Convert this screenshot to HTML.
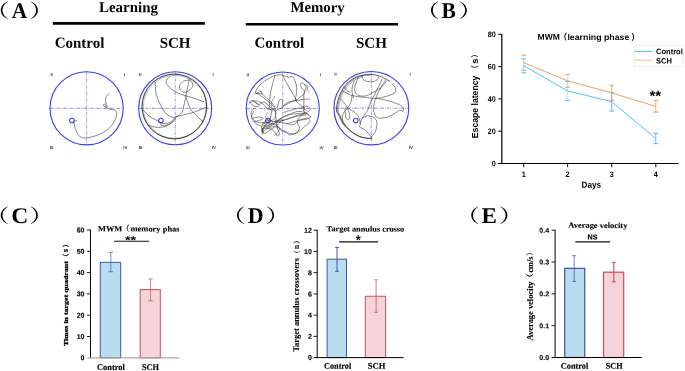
<!DOCTYPE html>
<html><head><meta charset="utf-8"><title>Figure</title>
<style>html,body{margin:0;padding:0;background:#fff;overflow:hidden;}svg{display:block;}</style>
</head><body>
<svg width="685" height="371" viewBox="0 0 685 371">
<rect width="685" height="371" fill="#fff"/>
<text transform="translate(-15.24,16.7) scale(1.32,1)" font-family='"Liberation Serif","Noto Serif CJK SC",serif' font-weight="500" font-size="18.7">（</text>
<text transform="translate(11.7 18) rotate(0.2)" font-size="22.5" font-family='"Liberation Serif","Noto Serif CJK SC",serif' font-weight="bold" text-anchor="start" fill="#000" textLength="15.4" lengthAdjust="spacingAndGlyphs" >A</text>
<text transform="translate(29.37,16.7) scale(1.32,1)" font-family='"Liberation Serif","Noto Serif CJK SC",serif' font-weight="500" font-size="18.7">）</text>
<text transform="translate(414.96,16.7) scale(1.32,1)" font-family='"Liberation Serif","Noto Serif CJK SC",serif' font-weight="500" font-size="18.7">（</text>
<text transform="translate(441.6 18) rotate(0.2)" font-size="22.5" font-family='"Liberation Serif","Noto Serif CJK SC",serif' font-weight="bold" text-anchor="start" fill="#000" textLength="14.3" lengthAdjust="spacingAndGlyphs" >B</text>
<text transform="translate(458.37,16.7) scale(1.32,1)" font-family='"Liberation Serif","Noto Serif CJK SC",serif' font-weight="500" font-size="18.7">）</text>
<text transform="translate(-15.24,221.6) scale(1.32,1)" font-family='"Liberation Serif","Noto Serif CJK SC",serif' font-weight="500" font-size="18.7">（</text>
<text transform="translate(11.2 222.9) rotate(0.2)" font-size="22.5" font-family='"Liberation Serif","Noto Serif CJK SC",serif' font-weight="bold" text-anchor="start" fill="#000" textLength="17.0" lengthAdjust="spacingAndGlyphs" >C</text>
<text transform="translate(29.37,221.6) scale(1.32,1)" font-family='"Liberation Serif","Noto Serif CJK SC",serif' font-weight="500" font-size="18.7">）</text>
<text transform="translate(220.96,221.6) scale(1.32,1)" font-family='"Liberation Serif","Noto Serif CJK SC",serif' font-weight="500" font-size="18.7">（</text>
<text transform="translate(247.8 222.9) rotate(0.2)" font-size="22.5" font-family='"Liberation Serif","Noto Serif CJK SC",serif' font-weight="bold" text-anchor="start" fill="#000" textLength="15.8" lengthAdjust="spacingAndGlyphs" >D</text>
<text transform="translate(265.47,221.6) scale(1.32,1)" font-family='"Liberation Serif","Noto Serif CJK SC",serif' font-weight="500" font-size="18.7">）</text>
<text transform="translate(455.36,221.6) scale(1.32,1)" font-family='"Liberation Serif","Noto Serif CJK SC",serif' font-weight="500" font-size="18.7">（</text>
<text transform="translate(481.6 222.9) rotate(0.2)" font-size="22.5" font-family='"Liberation Serif","Noto Serif CJK SC",serif' font-weight="bold" text-anchor="start" fill="#000" textLength="15.4" lengthAdjust="spacingAndGlyphs" >E</text>
<text transform="translate(498.77,221.6) scale(1.32,1)" font-family='"Liberation Serif","Noto Serif CJK SC",serif' font-weight="500" font-size="18.7">）</text>
<text transform="translate(128.5 12.1) rotate(0.2)" font-size="15" font-family='"Liberation Serif","Noto Serif CJK SC",serif' font-weight="bold" text-anchor="middle" fill="#000" >Learning</text>
<text transform="translate(317.6 12.1) rotate(0.2)" font-size="14.8" font-family='"Liberation Serif","Noto Serif CJK SC",serif' font-weight="bold" text-anchor="middle" fill="#000" >Memory</text>
<line x1="52.8" y1="23.4" x2="204.8" y2="23.4" stroke="#000" stroke-width="2.6" />
<line x1="245.8" y1="24.2" x2="398" y2="24.2" stroke="#000" stroke-width="2.6" />
<text transform="translate(79.5 47.7) rotate(0.2)" font-size="15" font-family='"Liberation Serif","Noto Serif CJK SC",serif' font-weight="bold" text-anchor="middle" fill="#000" >Control</text>
<text transform="translate(175.1 47.7) rotate(0.2)" font-size="15" font-family='"Liberation Serif","Noto Serif CJK SC",serif' font-weight="bold" text-anchor="middle" fill="#000" >SCH</text>
<text transform="translate(279.4 47.7) rotate(0.2)" font-size="15" font-family='"Liberation Serif","Noto Serif CJK SC",serif' font-weight="bold" text-anchor="middle" fill="#000" >Control</text>
<text transform="translate(371.4 47.7) rotate(0.2)" font-size="15" font-family='"Liberation Serif","Noto Serif CJK SC",serif' font-weight="bold" text-anchor="middle" fill="#000" >SCH</text>
<ellipse cx="86.6" cy="108.3" rx="36.6" ry="36.6" fill="none" stroke="#3d3df5" stroke-width="1.1"/>
<line x1="86.6" y1="71.69999999999999" x2="86.6" y2="144.9" stroke="#3d3df5" stroke-width="0.5" stroke-dasharray="3.5 1.1 0.9 1.15"/>
<line x1="49.99999999999999" y1="108.3" x2="123.19999999999999" y2="108.3" stroke="#3d3df5" stroke-width="0.6" stroke-dasharray="3.5 1.1 0.9 1.15"/>
<circle cx="71.9" cy="120.5" r="2.3" fill="none" stroke="#3d3df5" stroke-width="1.05"/>
<text transform="translate(51.599999999999994 75.89999999999999) rotate(0.2)" font-size="4.4" font-family='"Liberation Sans","Noto Sans CJK SC",sans-serif' font-weight="bold" text-anchor="middle" fill="#3a3a3a" >II</text>
<text transform="translate(124.49999999999999 75.89999999999999) rotate(0.2)" font-size="4.4" font-family='"Liberation Sans","Noto Sans CJK SC",sans-serif' font-weight="bold" text-anchor="middle" fill="#3a3a3a" >I</text>
<text transform="translate(51.699999999999996 149.0) rotate(0.2)" font-size="4.4" font-family='"Liberation Sans","Noto Sans CJK SC",sans-serif' font-weight="bold" text-anchor="middle" fill="#3a3a3a" textLength="3.4" lengthAdjust="spacingAndGlyphs" >III</text>
<text transform="translate(125.39999999999999 149.0) rotate(0.2)" font-size="4.4" font-family='"Liberation Sans","Noto Sans CJK SC",sans-serif' font-weight="bold" text-anchor="middle" fill="#3a3a3a" >IV</text>
<ellipse cx="175.2" cy="108.3" rx="36.5" ry="36.5" fill="none" stroke="#3d3df5" stroke-width="1.1"/>
<line x1="175.2" y1="71.8" x2="175.2" y2="144.8" stroke="#3d3df5" stroke-width="0.5" stroke-dasharray="3.5 1.1 0.9 1.15"/>
<line x1="138.7" y1="108.3" x2="211.7" y2="108.3" stroke="#3d3df5" stroke-width="0.6" stroke-dasharray="3.5 1.1 0.9 1.15"/>
<circle cx="160.9" cy="120.5" r="2.3" fill="none" stroke="#3d3df5" stroke-width="1.05"/>
<text transform="translate(140.29999999999998 76.0) rotate(0.2)" font-size="4.4" font-family='"Liberation Sans","Noto Sans CJK SC",sans-serif' font-weight="bold" text-anchor="middle" fill="#3a3a3a" >II</text>
<text transform="translate(213.0 76.0) rotate(0.2)" font-size="4.4" font-family='"Liberation Sans","Noto Sans CJK SC",sans-serif' font-weight="bold" text-anchor="middle" fill="#3a3a3a" >I</text>
<text transform="translate(140.39999999999998 148.9) rotate(0.2)" font-size="4.4" font-family='"Liberation Sans","Noto Sans CJK SC",sans-serif' font-weight="bold" text-anchor="middle" fill="#3a3a3a" textLength="3.4" lengthAdjust="spacingAndGlyphs" >III</text>
<text transform="translate(213.89999999999998 148.9) rotate(0.2)" font-size="4.4" font-family='"Liberation Sans","Noto Sans CJK SC",sans-serif' font-weight="bold" text-anchor="middle" fill="#3a3a3a" >IV</text>
<ellipse cx="282.75" cy="108.5" rx="36.55" ry="36.55" fill="none" stroke="#3d3df5" stroke-width="1.1"/>
<line x1="282.75" y1="71.95" x2="282.75" y2="145.05" stroke="#3d3df5" stroke-width="0.5" stroke-dasharray="3.5 1.1 0.9 1.15"/>
<line x1="246.2" y1="108.5" x2="319.3" y2="108.5" stroke="#3d3df5" stroke-width="0.6" stroke-dasharray="3.5 1.1 0.9 1.15"/>
<circle cx="267.9" cy="120.5" r="2.3" fill="none" stroke="#3d3df5" stroke-width="1.05"/>
<text transform="translate(247.79999999999998 76.15) rotate(0.2)" font-size="4.4" font-family='"Liberation Sans","Noto Sans CJK SC",sans-serif' font-weight="bold" text-anchor="middle" fill="#3a3a3a" >II</text>
<text transform="translate(320.6 76.15) rotate(0.2)" font-size="4.4" font-family='"Liberation Sans","Noto Sans CJK SC",sans-serif' font-weight="bold" text-anchor="middle" fill="#3a3a3a" >I</text>
<text transform="translate(247.89999999999998 149.15) rotate(0.2)" font-size="4.4" font-family='"Liberation Sans","Noto Sans CJK SC",sans-serif' font-weight="bold" text-anchor="middle" fill="#3a3a3a" textLength="3.4" lengthAdjust="spacingAndGlyphs" >III</text>
<text transform="translate(321.5 149.15) rotate(0.2)" font-size="4.4" font-family='"Liberation Sans","Noto Sans CJK SC",sans-serif' font-weight="bold" text-anchor="middle" fill="#3a3a3a" >IV</text>
<ellipse cx="371.35" cy="108.15" rx="37.4" ry="36.7" fill="none" stroke="#3d3df5" stroke-width="1.1"/>
<line x1="371.35" y1="71.45" x2="371.35" y2="144.85000000000002" stroke="#3d3df5" stroke-width="0.5" stroke-dasharray="3.5 1.1 0.9 1.15"/>
<line x1="333.95000000000005" y1="108.15" x2="408.75" y2="108.15" stroke="#3d3df5" stroke-width="0.6" stroke-dasharray="3.5 1.1 0.9 1.15"/>
<circle cx="355.8" cy="120.5" r="2.3" fill="none" stroke="#3d3df5" stroke-width="1.05"/>
<text transform="translate(335.55000000000007 75.65) rotate(0.2)" font-size="4.4" font-family='"Liberation Sans","Noto Sans CJK SC",sans-serif' font-weight="bold" text-anchor="middle" fill="#3a3a3a" >II</text>
<text transform="translate(410.05 75.65) rotate(0.2)" font-size="4.4" font-family='"Liberation Sans","Noto Sans CJK SC",sans-serif' font-weight="bold" text-anchor="middle" fill="#3a3a3a" >I</text>
<text transform="translate(335.65000000000003 148.95000000000002) rotate(0.2)" font-size="4.4" font-family='"Liberation Sans","Noto Sans CJK SC",sans-serif' font-weight="bold" text-anchor="middle" fill="#3a3a3a" textLength="3.4" lengthAdjust="spacingAndGlyphs" >III</text>
<text transform="translate(410.95 148.95000000000002) rotate(0.2)" font-size="4.4" font-family='"Liberation Sans","Noto Sans CJK SC",sans-serif' font-weight="bold" text-anchor="middle" fill="#3a3a3a" >IV</text>
<path d="M109.1,93.4 C108.6,93.9 106.8,95.4 106.3,96.6 C105.7,97.8 105.6,99.5 105.6,100.8 C105.6,102.0 106.0,103.3 106.3,104.2 C106.5,105.2 107.3,105.8 107.2,106.3 C107.1,106.8 106.4,107.4 105.8,107.3 C105.2,107.1 103.7,106.0 103.5,105.4 C103.3,104.8 104.0,103.7 104.4,103.8 C104.8,103.9 105.4,105.2 105.8,105.9 C106.2,106.5 106.1,107.2 106.7,107.7 C107.4,108.3 108.5,108.7 109.7,109.1 C111.0,109.5 113.2,109.5 114.4,110.0 C115.5,110.6 116.4,111.3 116.7,112.4 C117.0,113.4 116.8,114.7 116.2,116.5 C115.7,118.3 114.7,121.1 113.2,123.3 C111.8,125.5 109.7,127.9 107.4,129.7 C105.1,131.6 102.2,133.1 99.3,134.4 C96.4,135.7 92.7,136.8 90.0,137.4 C87.3,138.0 85.0,138.2 83.1,137.9 C81.2,137.5 79.7,136.4 78.5,135.1 C77.2,133.7 76.4,131.6 75.7,129.7 C75.0,127.9 74.6,125.4 74.3,124.0 C74.0,122.5 73.4,121.7 73.8,121.2 C74.2,120.6 76.1,120.8 76.6,120.7" fill="none" stroke="#383838" stroke-width="0.6" stroke-opacity="1" stroke-linecap="round" stroke-linejoin="round"/>
<path d="M116.5,92.0 L117.4,91.0" fill="none" stroke="#666" stroke-width="0.5" stroke-opacity="1" stroke-linecap="round" stroke-linejoin="round"/>
<circle cx="174.4" cy="106.5" r="32.3" fill="none" stroke="#222" stroke-width="0.9" stroke-opacity="0.95"/>
<circle cx="174.8" cy="106.9" r="31.5" fill="none" stroke="#222" stroke-width="0.5" stroke-opacity="0.55"/>
<circle cx="174.3" cy="106.3" r="32.7" fill="none" stroke="#222" stroke-width="0.4" stroke-opacity="0.45"/>
<path d="M155.3,82.2 C155.4,83.9 155.2,88.9 155.9,92.2 C156.5,95.5 157.9,99.1 159.2,102.2 C160.5,105.2 162.7,108.7 163.6,110.5 C164.6,112.2 163.9,111.7 165.0,112.7 C166.1,113.7 168.5,115.8 170.3,116.5 C172.1,117.3 174.2,117.6 175.8,117.1 C177.5,116.6 179.2,114.8 180.3,113.8 C181.4,112.8 181.6,113.9 182.5,111.1 C183.4,108.2 185.0,100.5 185.8,96.6 C186.7,92.7 186.9,90.5 187.5,87.8 C188.0,85.0 188.9,81.3 189.1,80.0" fill="none" stroke="#383838" stroke-width="0.6" stroke-opacity="1" stroke-linecap="round" stroke-linejoin="round"/>
<path d="M170.3,76.7 C169.6,77.2 167.0,78.7 166.4,80.0 C165.8,81.3 165.9,82.8 167.0,84.4 C168.0,86.1 170.1,88.3 172.5,90.0 C174.9,91.6 178.1,93.1 181.4,94.4 C184.7,95.7 188.8,96.5 192.5,97.7 C196.2,98.9 201.7,101.0 203.6,101.6" fill="none" stroke="#383838" stroke-width="0.6" stroke-opacity="1" stroke-linecap="round" stroke-linejoin="round"/>
<path d="M189.1,80.0 C188.2,80.2 185.2,80.2 183.6,81.1 C182.0,82.0 180.3,84.1 179.7,85.5 C179.2,87.0 179.4,88.9 180.3,90.0 C181.1,91.1 183.2,92.1 184.7,92.2 C186.2,92.3 187.9,91.5 189.1,90.5 C190.4,89.6 192.0,88.0 192.5,86.6 C192.9,85.3 192.5,83.3 191.9,82.2 C191.4,81.1 189.6,80.4 189.1,80.0" fill="none" stroke="#383838" stroke-width="0.6" stroke-opacity="1" stroke-linecap="round" stroke-linejoin="round"/>
<path d="M185.8,96.6 C186.2,97.7 187.1,101.0 188.0,103.3 C189.0,105.6 190.4,108.9 191.4,110.5 C192.3,112.1 192.3,111.4 193.6,112.7 C194.9,113.9 197.5,116.7 199.1,118.2 C200.8,119.7 202.8,121.0 203.6,121.5" fill="none" stroke="#383838" stroke-width="0.6" stroke-opacity="1" stroke-linecap="round" stroke-linejoin="round"/>
<path d="M143.7,110.4 C144.6,111.4 147.2,114.4 149.2,116.0 C151.2,117.6 153.9,118.8 155.9,119.9 C157.8,121.0 159.2,122.0 160.9,122.6 C162.5,123.3 164.1,123.9 165.8,123.8 C167.6,123.6 169.7,122.6 171.4,121.5 C173.1,120.4 173.8,118.2 175.8,117.1 C177.9,116.0 180.8,115.6 183.6,114.9 C186.4,114.1 189.5,113.6 192.5,112.7 C195.4,111.7 199.1,110.3 201.4,109.3 C203.6,108.4 205.0,107.5 205.8,107.1" fill="none" stroke="#383838" stroke-width="0.6" stroke-opacity="1" stroke-linecap="round" stroke-linejoin="round"/>
<path d="M160.9,122.6 C160.9,123.1 160.4,125.0 161.4,125.4 C162.4,125.9 164.9,126.1 167.0,125.4 C169.0,124.8 172.5,122.2 173.6,121.5" fill="none" stroke="#383838" stroke-width="0.6" stroke-opacity="1" stroke-linecap="round" stroke-linejoin="round"/>
<path d="M148.1,124.9 C149.2,125.2 152.3,126.7 154.8,127.1 C157.2,127.5 159.9,127.6 162.5,127.1 C165.1,126.5 168.1,125.2 170.3,123.8 C172.5,122.3 174.9,119.1 175.8,118.2" fill="none" stroke="#383838" stroke-width="0.6" stroke-opacity="1" stroke-linecap="round" stroke-linejoin="round"/>
<path d="M255.1,92.7 C255.6,91.7 256.6,88.8 258.4,86.6 C260.3,84.5 263.4,81.8 266.2,80.0 C269.0,78.1 272.5,76.4 275.1,75.5 C277.7,74.7 280.1,74.9 281.7,75.0 C283.4,75.1 283.9,75.7 285.1,76.1 C286.2,76.5 287.1,77.1 288.4,77.2 C289.7,77.3 291.7,76.0 292.8,76.7 C293.9,77.3 294.4,79.2 295.0,81.1 C295.7,82.9 296.5,85.3 296.7,87.8 C296.9,90.2 296.3,93.5 296.1,95.5 C296.0,97.6 295.0,98.5 295.6,100.0 C296.1,101.4 298.1,103.1 299.5,104.4 C300.9,105.7 302.8,106.7 303.9,107.7 C305.0,108.7 305.8,110.0 306.1,110.5" fill="none" stroke="#383838" stroke-width="0.6" stroke-opacity="1" stroke-linecap="round" stroke-linejoin="round"/>
<path d="M275.1,75.5 C274.7,76.8 273.6,80.5 272.8,83.3 C272.1,86.1 271.1,89.2 270.6,92.2 C270.1,95.1 269.9,98.3 269.7,101.1 C269.6,103.8 269.2,107.3 269.5,108.8 C269.9,110.4 271.6,109.1 271.7,110.4 C271.9,111.8 270.9,115.2 270.6,117.1 C270.4,118.9 270.2,120.8 270.1,121.5" fill="none" stroke="#383838" stroke-width="0.6" stroke-opacity="1" stroke-linecap="round" stroke-linejoin="round"/>
<path d="M282.8,75.5 C283.4,76.7 284.9,79.8 286.2,82.2 C287.5,84.6 289.1,87.4 290.6,90.0 C292.1,92.6 294.0,95.9 295.0,97.7 C296.1,99.6 296.4,100.5 296.7,101.1" fill="none" stroke="#383838" stroke-width="0.6" stroke-opacity="1" stroke-linecap="round" stroke-linejoin="round"/>
<path d="M308.9,91.6 C308.6,91.3 307.4,90.3 307.2,89.4 C307.1,88.5 308.3,86.9 307.8,86.1 C307.3,85.3 305.5,85.0 304.5,84.4 C303.5,83.9 302.3,82.6 301.7,82.8 C301.0,82.9 300.5,84.5 300.6,85.5 C300.7,86.6 301.6,87.9 302.2,88.9 C302.9,89.8 304.2,90.2 304.5,91.1 C304.7,91.9 304.7,92.7 303.9,93.9 C303.1,95.0 300.8,96.7 299.5,97.7 C298.2,98.8 298.0,99.0 296.1,100.0 C294.3,100.9 290.8,102.0 288.4,103.3 C286.0,104.6 283.8,106.5 281.7,107.7 C279.7,108.9 277.1,110.0 276.2,110.5" fill="none" stroke="#383838" stroke-width="0.6" stroke-opacity="1" stroke-linecap="round" stroke-linejoin="round"/>
<path d="M304.5,84.4 C304.7,85.0 306.2,86.2 306.1,87.8 C306.0,89.3 304.3,91.3 303.9,93.9 C303.5,96.4 304.0,100.5 303.9,103.3 C303.8,106.1 303.5,109.3 303.4,110.5" fill="none" stroke="#383838" stroke-width="0.6" stroke-opacity="1" stroke-linecap="round" stroke-linejoin="round"/>
<path d="M260.1,90.5 C260.4,91.1 262.6,93.5 261.8,93.9 C260.9,94.2 255.3,92.5 255.1,92.7 C254.9,93.0 258.8,94.3 260.6,95.5 C262.5,96.7 264.3,98.5 266.2,100.0 C268.0,101.4 270.3,102.9 271.7,104.4 C273.2,105.9 274.4,106.7 275.1,108.8 C275.7,111.0 275.4,115.0 275.6,117.1 C275.8,119.2 276.1,120.8 276.2,121.5" fill="none" stroke="#383838" stroke-width="0.6" stroke-opacity="1" stroke-linecap="round" stroke-linejoin="round"/>
<path d="M249.5,102.2 C250.1,101.9 251.4,100.1 252.9,100.5 C254.4,100.9 256.8,104.1 258.4,104.4 C260.1,104.7 261.6,102.4 262.9,102.2 C264.2,102.0 265.1,102.5 266.2,103.3 C267.3,104.0 268.2,105.5 269.5,106.6 C270.8,107.7 273.2,109.4 274.0,109.9" fill="none" stroke="#383838" stroke-width="0.6" stroke-opacity="1" stroke-linecap="round" stroke-linejoin="round"/>
<path d="M250.7,103.3 C251.4,103.8 253.6,106.2 255.1,106.6 C256.6,107.0 259.7,106.3 259.5,105.5 C259.3,104.7 254.9,102.3 254.0,101.6" fill="none" stroke="#383838" stroke-width="0.6" stroke-opacity="1" stroke-linecap="round" stroke-linejoin="round"/>
<path d="M277.3,107.7 C277.7,106.4 278.7,101.2 279.5,100.0 C280.3,98.8 281.7,99.6 282.3,100.5 C282.8,101.4 281.8,105.2 282.8,105.5 C283.8,105.8 286.2,103.0 288.4,102.2 C290.6,101.3 293.6,101.0 296.1,100.5 C298.7,100.0 301.7,99.6 303.9,99.4 C306.1,99.2 308.5,99.1 309.5,99.1" fill="none" stroke="#383838" stroke-width="0.6" stroke-opacity="1" stroke-linecap="round" stroke-linejoin="round"/>
<path d="M254.0,108.2 C253.5,109.0 251.5,110.8 251.2,112.7 C250.9,114.5 251.5,117.5 252.3,119.3 C253.2,121.2 254.6,122.6 256.2,123.8 C257.8,124.9 260.1,125.8 261.8,126.0 C263.4,126.2 265.5,125.0 266.2,124.9" fill="none" stroke="#383838" stroke-width="0.6" stroke-opacity="1" stroke-linecap="round" stroke-linejoin="round"/>
<path d="M252.9,118.2 C253.8,118.0 256.8,117.1 258.4,117.1 C260.1,117.1 262.7,117.6 262.9,118.2 C263.0,118.8 260.9,119.9 259.5,120.4 C258.1,121.0 255.4,121.3 254.5,121.5" fill="none" stroke="#383838" stroke-width="0.6" stroke-opacity="1" stroke-linecap="round" stroke-linejoin="round"/>
<path d="M267.9,120.4 C269.2,120.6 273.7,122.1 276.2,121.5 C278.7,121.0 280.4,118.4 282.8,117.1 C285.2,115.8 288.2,114.7 290.6,113.8 C293.0,112.8 295.0,111.8 297.3,111.5 C299.5,111.3 302.1,111.5 303.9,112.1 C305.8,112.7 307.2,114.0 308.4,114.9 C309.5,115.7 310.9,116.4 310.6,117.1 C310.2,117.8 308.0,118.8 306.1,119.3 C304.3,119.9 301.7,119.5 299.5,120.4 C297.3,121.3 294.7,124.3 292.8,124.9 C291.0,125.4 290.2,124.1 288.4,123.8 C286.5,123.4 283.8,122.9 281.7,122.6 C279.7,122.4 277.1,122.2 276.2,122.1" fill="none" stroke="#383838" stroke-width="0.6" stroke-opacity="1" stroke-linecap="round" stroke-linejoin="round"/>
<path d="M262.3,133.2 C262.2,132.5 261.1,130.5 261.8,129.3 C262.4,128.1 264.3,126.9 266.2,126.0 C268.0,125.0 271.0,123.8 272.8,123.8 C274.7,123.8 276.2,125.2 277.3,126.0 C278.4,126.7 278.8,127.4 279.5,128.2 C280.2,129.0 280.6,130.3 281.7,131.0 C282.8,131.6 284.9,131.4 286.2,132.1 C287.5,132.7 287.8,134.7 289.5,134.8 C291.2,135.0 294.5,134.3 296.1,133.2 C297.8,132.1 299.3,129.9 299.5,128.2 C299.7,126.4 297.3,124.5 297.3,122.6 C297.3,120.8 298.4,118.6 299.5,117.1 C300.6,115.6 303.2,115.4 303.9,113.8 C304.7,112.1 303.9,108.2 303.9,107.1" fill="none" stroke="#383838" stroke-width="0.6" stroke-opacity="1" stroke-linecap="round" stroke-linejoin="round"/>
<path d="M266.2,128.2 C267.1,128.4 270.3,128.6 271.7,129.3 C273.2,130.0 274.1,131.5 275.1,132.6 C276.0,133.7 276.5,135.8 277.3,136.0 C278.0,136.1 279.5,135.0 279.5,133.7 C279.5,132.4 277.8,130.0 277.3,128.2 C276.7,126.3 276.4,123.6 276.2,122.6" fill="none" stroke="#383838" stroke-width="0.6" stroke-opacity="1" stroke-linecap="round" stroke-linejoin="round"/>
<path d="M276.2,121.5 C277.3,121.3 280.4,121.0 282.8,120.4 C285.2,119.9 288.2,118.9 290.6,118.2 C293.0,117.5 294.7,116.5 297.3,116.0 C299.8,115.4 304.7,115.1 306.1,114.9" fill="none" stroke="#383838" stroke-width="0.6" stroke-opacity="1" stroke-linecap="round" stroke-linejoin="round"/>
<path d="M267.9,122.6 C267.2,123.4 265.0,126.0 264.0,127.1 C263.0,128.2 261.0,129.3 261.8,129.3 C262.5,129.3 266.0,128.2 268.4,127.1 C270.8,126.0 274.9,123.4 276.2,122.6" fill="none" stroke="#383838" stroke-width="0.6" stroke-opacity="1" stroke-linecap="round" stroke-linejoin="round"/>
<path d="M284.0,112.4 C286.0,111.8 291.8,109.8 295.6,108.9 C299.5,107.9 304.8,106.6 307.2,106.6 C309.6,106.6 310.0,107.9 310.0,108.9 C310.0,109.8 309.6,111.2 307.2,112.4 C304.8,113.5 299.1,114.7 295.6,115.8 C292.2,117.0 289.5,118.2 286.4,119.3 C283.3,120.5 278.6,122.2 277.1,122.8" fill="none" stroke="#3a3a3a" stroke-width="0.55" stroke-opacity="1" stroke-linecap="round" stroke-linejoin="round"/>
<path d="M286.4,124.0 C288.3,123.4 294.5,121.4 298.0,120.5 C301.4,119.5 305.2,118.0 307.2,118.2 C309.2,118.3 310.4,120.3 310.0,121.6 C309.6,123.0 306.9,124.5 304.9,126.3 C302.9,128.0 300.3,130.8 298.0,132.1 C295.6,133.3 293.3,133.9 291.0,133.7 C288.7,133.5 286.4,132.1 284.0,130.9 C281.7,129.7 278.2,127.0 277.1,126.3" fill="none" stroke="#3a3a3a" stroke-width="0.55" stroke-opacity="1" stroke-linecap="round" stroke-linejoin="round"/>
<path d="M249.3,103.1 C250.4,102.7 253.9,100.6 256.2,100.8 C258.5,101.0 261.2,102.9 263.2,104.2 C265.1,105.6 265.9,107.9 267.8,108.9 C269.7,109.8 273.6,109.8 274.8,110.0" fill="none" stroke="#3a3a3a" stroke-width="0.55" stroke-opacity="1" stroke-linecap="round" stroke-linejoin="round"/>
<path d="M253.9,111.2 C253.5,112.2 251.2,115.3 251.6,117.0 C252.0,118.7 254.3,120.7 256.2,121.6 C258.2,122.6 261.1,122.8 263.2,122.8 C265.3,122.8 268.0,121.8 269.0,121.6" fill="none" stroke="#3a3a3a" stroke-width="0.55" stroke-opacity="1" stroke-linecap="round" stroke-linejoin="round"/>
<path d="M256.2,93.8 C257.0,93.4 259.7,91.3 260.9,91.5 C262.0,91.7 261.6,93.4 263.2,95.0 C264.7,96.5 268.2,98.8 270.1,100.8 C272.1,102.7 274.0,105.6 274.8,106.6" fill="none" stroke="#3a3a3a" stroke-width="0.55" stroke-opacity="1" stroke-linecap="round" stroke-linejoin="round"/>
<path d="M274.8,121.6 C276.7,120.7 282.5,117.2 286.4,115.8 C290.2,114.5 294.3,113.8 298.0,113.5 C301.6,113.2 306.6,114.1 308.4,114.2" fill="none" stroke="#3a3a3a" stroke-width="0.55" stroke-opacity="1" stroke-linecap="round" stroke-linejoin="round"/>
<path d="M263.2,128.6 C263.0,129.2 261.6,131.9 262.0,132.1 C262.4,132.3 263.8,130.6 265.5,129.7 C267.2,128.9 270.1,127.0 272.5,126.7 C274.8,126.5 278.6,127.0 279.4,128.1 C280.2,129.2 277.9,132.0 277.1,133.2 C276.3,134.5 275.2,135.2 274.8,135.5" fill="none" stroke="#3a3a3a" stroke-width="0.55" stroke-opacity="1" stroke-linecap="round" stroke-linejoin="round"/>
<path d="M262.0,125.1 C262.4,124.5 263.2,122.5 264.3,121.6 C265.5,120.7 267.6,119.8 269.0,119.8 C270.3,119.8 272.3,120.7 272.5,121.6 C272.6,122.5 271.3,124.3 270.1,125.1 C269.0,126.0 266.7,126.0 265.5,126.7 C264.3,127.5 262.9,128.7 262.7,129.7 C262.5,130.8 263.3,133.0 264.3,133.2 C265.4,133.4 267.2,132.0 269.0,130.9 C270.7,129.8 273.2,127.9 274.8,126.7 C276.3,125.6 277.7,124.4 278.2,124.0" fill="none" stroke="#3a3a3a" stroke-width="0.6" stroke-opacity="1" stroke-linecap="round" stroke-linejoin="round"/>
<path d="M263.2,124.0 C264.0,123.8 266.5,122.8 267.8,122.8 C269.2,122.8 270.1,124.0 271.3,124.0 C272.5,124.0 273.6,123.4 274.8,122.8 C275.9,122.2 277.1,121.0 278.2,120.5 C279.4,120.0 281.1,119.9 281.7,119.8" fill="none" stroke="#3a3a3a" stroke-width="0.6" stroke-opacity="1" stroke-linecap="round" stroke-linejoin="round"/>
<path d="M261.3,126.7 C261.6,127.6 263.0,130.8 263.2,132.1 C263.3,133.3 262.4,134.0 262.3,134.4" fill="none" stroke="#3a3a3a" stroke-width="0.7" stroke-opacity="1" stroke-linecap="round" stroke-linejoin="round"/>
<path d="M267.8,112.4 C267.4,113.1 265.5,115.8 265.5,117.0 C265.5,118.2 267.4,119.3 267.8,119.8" fill="none" stroke="#3a3a3a" stroke-width="0.5" stroke-opacity="1" stroke-linecap="round" stroke-linejoin="round"/>
<path d="M274.8,96.1 C274.2,97.3 271.7,101.0 271.3,103.1 C270.9,105.2 271.7,107.3 272.5,108.9 C273.2,110.4 275.5,110.8 275.9,112.4 C276.3,113.9 275.5,116.8 274.8,118.2 C274.0,119.5 271.9,120.1 271.3,120.5" fill="none" stroke="#3a3a3a" stroke-width="0.5" stroke-opacity="1" stroke-linecap="round" stroke-linejoin="round"/>
<path d="M371.4,138.2 C370.7,138.2 369.4,138.5 367.5,138.2 C365.6,137.9 362.5,137.6 359.7,136.5 C357.0,135.4 353.6,133.6 350.9,131.5 C348.1,129.4 345.1,126.5 343.1,123.8 C341.1,121.0 339.8,117.2 338.7,114.9 C337.5,112.6 336.4,112.8 336.4,109.9 C336.4,107.1 337.4,101.6 338.7,97.7 C340.0,93.9 342.0,89.7 344.2,86.6 C346.4,83.6 349.2,81.3 352.0,79.4 C354.7,77.6 357.7,76.4 360.8,75.5 C364.0,74.7 367.7,74.3 370.8,74.4 C374.0,74.5 377.1,75.3 379.7,76.1 C382.3,76.9 384.7,78.6 386.4,79.4 C388.0,80.3 389.1,80.8 389.7,81.1" fill="none" stroke="#222" stroke-width="0.75" stroke-opacity="1" stroke-linecap="round" stroke-linejoin="round"/>
<path d="M372.4,138.6 C371.7,138.6 370.4,138.9 368.5,138.6 C366.6,138.3 363.5,138.1 360.7,137.0 C358.0,135.8 354.6,134.1 351.9,132.0 C349.1,129.8 346.1,127.0 344.1,124.2 C342.1,121.4 340.8,117.6 339.7,115.3 C338.5,113.0 337.4,113.2 337.4,110.4 C337.4,107.5 338.4,102.1 339.7,98.2 C341.0,94.3 343.0,90.1 345.2,87.1 C347.4,84.0 350.2,81.7 353.0,79.9 C355.7,78.0 358.7,76.8 361.8,76.0 C365.0,75.2 370.2,75.1 371.8,74.9" fill="none" stroke="#333" stroke-width="0.5" stroke-opacity="1" stroke-linecap="round" stroke-linejoin="round"/>
<path d="M361.7,137.6 C360.3,136.8 355.6,134.8 352.9,132.6 C350.1,130.5 347.1,127.6 345.1,124.9 C343.1,122.1 341.8,118.3 340.7,116.0 C339.5,113.7 338.4,113.9 338.4,111.1 C338.4,108.2 339.4,102.7 340.7,98.8 C341.9,95.0 344.0,90.8 346.2,87.8 C348.4,84.7 351.2,82.4 354.0,80.5 C356.7,78.7 361.4,77.3 362.8,76.7" fill="none" stroke="#555" stroke-width="0.45" stroke-opacity="1" stroke-linecap="round" stroke-linejoin="round"/>
<path d="M362.0,75.5 C362.1,76.2 362.1,78.4 363.1,79.4 C364.0,80.4 365.8,81.3 367.5,81.6 C369.2,82.0 371.4,82.0 373.1,81.6 C374.7,81.3 376.6,80.3 377.5,79.4 C378.4,78.6 378.4,77.1 378.6,76.7" fill="none" stroke="#383838" stroke-width="0.6" stroke-opacity="1" stroke-linecap="round" stroke-linejoin="round"/>
<path d="M358.6,77.2 C358.2,78.2 356.5,81.2 355.9,83.3 C355.2,85.4 354.5,88.0 354.7,90.0 C355.0,91.9 355.9,93.9 357.5,95.0 C359.1,96.0 362.0,96.3 364.2,96.1 C366.4,95.9 368.8,94.8 370.8,93.9 C372.9,92.9 374.7,91.5 376.4,90.5 C378.0,89.5 379.5,88.8 380.8,87.8 C382.1,86.7 383.2,85.5 384.1,84.4 C385.1,83.3 386.0,81.6 386.4,81.1" fill="none" stroke="#383838" stroke-width="0.6" stroke-opacity="1" stroke-linecap="round" stroke-linejoin="round"/>
<path d="M354.2,81.1 C353.8,82.4 352.2,86.6 352.0,88.9 C351.7,91.1 352.2,92.9 352.5,94.4 C352.8,95.9 353.5,97.2 353.6,97.7" fill="none" stroke="#383838" stroke-width="0.6" stroke-opacity="1" stroke-linecap="round" stroke-linejoin="round"/>
<path d="M343.1,91.1 C344.6,91.8 348.6,94.5 352.0,95.5 C355.3,96.5 359.0,96.7 363.1,97.2 C367.1,97.6 372.7,98.4 376.4,98.3 C380.1,98.2 382.5,97.4 385.3,96.6 C388.0,95.9 391.3,94.8 393.0,93.9 C394.8,92.9 395.5,92.3 395.8,91.1 C396.1,89.9 395.2,87.8 394.7,86.6 C394.1,85.5 392.7,84.9 392.5,84.4 C392.2,83.9 393.1,83.9 393.2,83.8" fill="none" stroke="#383838" stroke-width="0.6" stroke-opacity="1" stroke-linecap="round" stroke-linejoin="round"/>
<path d="M376.4,98.3 C378.2,98.7 383.8,99.5 387.5,100.5 C391.2,101.5 396.0,103.2 398.6,104.4 C401.2,105.6 402.3,106.6 403.0,107.7 C403.7,108.8 403.6,110.6 403.0,111.1 C402.5,111.5 401.2,110.0 399.7,110.4 C398.2,110.9 396.2,112.7 394.1,113.8 C392.1,114.9 389.7,116.4 387.5,117.1 C385.3,117.8 382.7,118.2 380.8,118.2 C379.0,118.2 377.5,118.0 376.4,117.1 C375.3,116.2 374.6,113.8 374.2,112.7 C373.7,111.6 373.6,112.1 373.6,110.5 C373.6,108.9 373.7,105.6 374.2,103.3 C374.6,101.0 375.3,99.2 376.4,96.6 C377.5,94.0 379.3,90.4 380.8,87.8 C382.3,85.1 384.5,81.7 385.3,80.5" fill="none" stroke="#383838" stroke-width="0.6" stroke-opacity="1" stroke-linecap="round" stroke-linejoin="round"/>
<path d="M381.9,79.4 C381.4,80.6 379.9,84.0 378.6,86.6 C377.3,89.3 375.5,92.9 374.2,95.5 C372.9,98.1 371.9,99.7 370.8,102.2 C369.7,104.7 368.4,108.6 367.5,110.5 C366.6,112.4 366.2,112.5 365.3,113.8 C364.4,115.1 362.8,116.5 362.0,118.2 C361.1,119.9 360.6,122.8 360.3,123.8" fill="none" stroke="#383838" stroke-width="0.6" stroke-opacity="1" stroke-linecap="round" stroke-linejoin="round"/>
<path d="M340.9,98.8 C341.6,99.8 344.0,102.7 345.3,104.4 C346.6,106.1 347.9,108.0 348.6,108.8 C349.4,109.7 348.6,108.7 349.8,109.3 C350.9,110.0 353.7,111.2 355.3,112.7 C356.9,114.1 358.4,116.4 359.2,118.2 C360.0,120.1 360.2,122.3 360.3,123.8 C360.4,125.2 359.1,126.2 359.7,127.1 C360.4,128.0 362.7,128.2 364.2,129.3 C365.7,130.4 367.4,132.4 368.6,133.7 C369.8,135.1 370.9,137.0 371.4,137.6" fill="none" stroke="#383838" stroke-width="0.6" stroke-opacity="1" stroke-linecap="round" stroke-linejoin="round"/>
<path d="M352.0,95.5 C351.8,96.6 351.6,100.1 350.9,102.2 C350.1,104.2 348.5,106.7 347.5,107.7 C346.6,108.7 345.7,107.4 345.3,108.2 C344.9,109.0 345.2,111.0 345.3,112.7 C345.4,114.3 345.3,117.1 345.9,118.2 C346.4,119.3 348.0,119.7 348.6,119.3 C349.3,118.9 349.8,117.3 349.8,116.0 C349.8,114.7 349.0,112.8 348.6,111.6 C348.3,110.3 347.7,108.8 347.5,108.2" fill="none" stroke="#383838" stroke-width="0.6" stroke-opacity="1" stroke-linecap="round" stroke-linejoin="round"/>
<path d="M347.5,108.2 C346.8,109.1 343.9,111.7 343.1,113.8 C342.3,115.8 342.2,118.6 342.5,120.4 C342.9,122.3 344.9,124.1 345.3,124.9" fill="none" stroke="#383838" stroke-width="0.6" stroke-opacity="1" stroke-linecap="round" stroke-linejoin="round"/>
<path d="M362.0,118.2 C362.9,117.8 365.7,116.2 367.5,116.0 C369.4,115.8 371.6,116.4 373.1,117.1 C374.5,117.8 375.7,118.9 376.4,120.4 C377.0,121.9 377.1,124.1 376.9,126.0 C376.8,127.8 376.1,129.8 375.3,131.5 C374.4,133.3 372.5,135.7 371.9,136.5" fill="none" stroke="#383838" stroke-width="0.6" stroke-opacity="1" stroke-linecap="round" stroke-linejoin="round"/>
<path d="M344.2,86.6 C344.6,87.2 345.5,89.0 346.4,90.0 C347.3,90.9 349.2,91.8 349.8,92.2" fill="none" stroke="#383838" stroke-width="0.6" stroke-opacity="1" stroke-linecap="round" stroke-linejoin="round"/>
<line x1="501.8" y1="33.9" x2="501.8" y2="164.1" stroke="#000" stroke-width="1.2" />
<line x1="498.2" y1="163.5" x2="678.5" y2="163.5" stroke="#000" stroke-width="1.2" />
<line x1="498.2" y1="163.5" x2="501.8" y2="163.5" stroke="#000" stroke-width="1" />
<text transform="translate(495.8 166.3) rotate(0.2) scale(0.91 1)" font-size="7.9" font-family='"Liberation Sans","Noto Sans CJK SC",sans-serif' font-weight="bold" text-anchor="end" fill="#000" >0</text>
<line x1="498.2" y1="131.2" x2="501.8" y2="131.2" stroke="#000" stroke-width="1" />
<text transform="translate(495.8 134.0) rotate(0.2) scale(0.91 1)" font-size="7.9" font-family='"Liberation Sans","Noto Sans CJK SC",sans-serif' font-weight="bold" text-anchor="end" fill="#000" >20</text>
<line x1="498.2" y1="98.9" x2="501.8" y2="98.9" stroke="#000" stroke-width="1" />
<text transform="translate(495.8 101.7) rotate(0.2) scale(0.91 1)" font-size="7.9" font-family='"Liberation Sans","Noto Sans CJK SC",sans-serif' font-weight="bold" text-anchor="end" fill="#000" >40</text>
<line x1="498.2" y1="66.6" x2="501.8" y2="66.6" stroke="#000" stroke-width="1" />
<text transform="translate(495.8 69.39999999999999) rotate(0.2) scale(0.91 1)" font-size="7.9" font-family='"Liberation Sans","Noto Sans CJK SC",sans-serif' font-weight="bold" text-anchor="end" fill="#000" >60</text>
<line x1="498.2" y1="34.30000000000001" x2="501.8" y2="34.30000000000001" stroke="#000" stroke-width="1" />
<text transform="translate(495.8 37.10000000000001) rotate(0.2) scale(0.91 1)" font-size="7.9" font-family='"Liberation Sans","Noto Sans CJK SC",sans-serif' font-weight="bold" text-anchor="end" fill="#000" >80</text>
<line x1="523.7" y1="163.5" x2="523.7" y2="167.2" stroke="#000" stroke-width="1" />
<text transform="translate(523.7 176.9) rotate(0.2) scale(0.91 1)" font-size="7.9" font-family='"Liberation Sans","Noto Sans CJK SC",sans-serif' font-weight="bold" text-anchor="middle" fill="#000" >1</text>
<line x1="567.6" y1="163.5" x2="567.6" y2="167.2" stroke="#000" stroke-width="1" />
<text transform="translate(567.6 176.9) rotate(0.2) scale(0.91 1)" font-size="7.9" font-family='"Liberation Sans","Noto Sans CJK SC",sans-serif' font-weight="bold" text-anchor="middle" fill="#000" >2</text>
<line x1="611.7" y1="163.5" x2="611.7" y2="167.2" stroke="#000" stroke-width="1" />
<text transform="translate(611.7 176.9) rotate(0.2) scale(0.91 1)" font-size="7.9" font-family='"Liberation Sans","Noto Sans CJK SC",sans-serif' font-weight="bold" text-anchor="middle" fill="#000" >3</text>
<line x1="655.8" y1="163.5" x2="655.8" y2="167.2" stroke="#000" stroke-width="1" />
<text transform="translate(655.8 176.9) rotate(0.2) scale(0.91 1)" font-size="7.9" font-family='"Liberation Sans","Noto Sans CJK SC",sans-serif' font-weight="bold" text-anchor="middle" fill="#000" >4</text>
<text transform="translate(591.3 187.8) rotate(0.2) scale(0.93 1)" font-size="8.8" font-family='"Liberation Sans","Noto Sans CJK SC",sans-serif' font-weight="bold" text-anchor="middle" fill="#000" >Days</text>
<g transform="translate(477.6,138.2) rotate(-90)" font-family='"Liberation Sans","Noto Sans CJK SC",sans-serif' font-weight="bold" font-size="8.8" fill="#000" stroke="#000" stroke-width="0">
<text x="0" y="0" textLength="62.5" lengthAdjust="spacingAndGlyphs">Escape latency</text>
<text x="65.5" y="0" font-size="7.5">（</text>
<text x="74.4" y="0" font-size="9.4">s</text>
<text x="80.5" y="0" font-size="7.5">）</text>
</g>
<g transform="translate(537.6,39.8) rotate(0.2)" font-family='"Liberation Sans","Noto Sans CJK SC",sans-serif' font-weight="bold" font-size="8.4" fill="#000" stroke="#000" stroke-width="0">
<text x="0" y="0" textLength="22.1" lengthAdjust="spacingAndGlyphs">MWM</text>
<text x="21.100000000000023" y="0">（</text>
<text x="29.799999999999955" y="0" textLength="62" lengthAdjust="spacingAndGlyphs">learning phase</text>
<text x="93.60000000000002" y="0">）</text>
</g>
<line x1="523.7" y1="59.0" x2="523.7" y2="72.8" stroke="#4fc0ff" stroke-width="1.0" stroke-opacity="0.38"/>
<line x1="521.4000000000001" y1="59.0" x2="526.0" y2="59.0" stroke="#4fc0ff" stroke-width="1.1" />
<line x1="521.4000000000001" y1="72.8" x2="526.0" y2="72.8" stroke="#4fc0ff" stroke-width="1.1" />
<line x1="567.6" y1="81.4" x2="567.6" y2="100.4" stroke="#4fc0ff" stroke-width="1.0" stroke-opacity="0.38"/>
<line x1="565.3000000000001" y1="81.4" x2="569.9" y2="81.4" stroke="#4fc0ff" stroke-width="1.1" />
<line x1="565.3000000000001" y1="100.4" x2="569.9" y2="100.4" stroke="#4fc0ff" stroke-width="1.1" />
<line x1="611.7" y1="92.4" x2="611.7" y2="111.0" stroke="#4fc0ff" stroke-width="1.0" stroke-opacity="0.9"/>
<line x1="609.4000000000001" y1="92.4" x2="614.0" y2="92.4" stroke="#4fc0ff" stroke-width="1.1" />
<line x1="609.4000000000001" y1="111.0" x2="614.0" y2="111.0" stroke="#4fc0ff" stroke-width="1.1" />
<line x1="655.8" y1="133.4" x2="655.8" y2="143.6" stroke="#4fc0ff" stroke-width="1.0" stroke-opacity="0.9"/>
<line x1="653.5" y1="133.4" x2="658.0999999999999" y2="133.4" stroke="#4fc0ff" stroke-width="1.1" />
<line x1="653.5" y1="143.6" x2="658.0999999999999" y2="143.6" stroke="#4fc0ff" stroke-width="1.1" />
<polyline points="523.7,65.7 567.6,90.9 611.7,101.7 655.8,138.7" fill="none" stroke="#4fc0ff" stroke-width="1.0" stroke-linejoin="round"/>
<line x1="523.7" y1="55.2" x2="523.7" y2="70.3" stroke="#e8a064" stroke-width="1.0" stroke-opacity="0.38"/>
<line x1="521.4000000000001" y1="55.2" x2="526.0" y2="55.2" stroke="#e8a064" stroke-width="1.1" />
<line x1="521.4000000000001" y1="70.3" x2="526.0" y2="70.3" stroke="#e8a064" stroke-width="1.1" />
<line x1="567.6" y1="74.5" x2="567.6" y2="87.3" stroke="#e8a064" stroke-width="1.0" stroke-opacity="0.38"/>
<line x1="565.3000000000001" y1="74.5" x2="569.9" y2="74.5" stroke="#e8a064" stroke-width="1.1" />
<line x1="565.3000000000001" y1="87.3" x2="569.9" y2="87.3" stroke="#e8a064" stroke-width="1.1" />
<line x1="611.7" y1="85.3" x2="611.7" y2="100.4" stroke="#e8a064" stroke-width="1.0" stroke-opacity="0.9"/>
<line x1="609.4000000000001" y1="85.3" x2="614.0" y2="85.3" stroke="#e8a064" stroke-width="1.1" />
<line x1="609.4000000000001" y1="100.4" x2="614.0" y2="100.4" stroke="#e8a064" stroke-width="1.1" />
<line x1="655.8" y1="100.5" x2="655.8" y2="112.1" stroke="#e8a064" stroke-width="1.0" stroke-opacity="0.9"/>
<line x1="653.5" y1="100.5" x2="658.0999999999999" y2="100.5" stroke="#e8a064" stroke-width="1.1" />
<line x1="653.5" y1="112.1" x2="658.0999999999999" y2="112.1" stroke="#e8a064" stroke-width="1.1" />
<polyline points="523.7,62.7 567.6,80.8 611.7,92.9 655.8,106.4" fill="none" stroke="#e8a064" stroke-width="1.0" stroke-linejoin="round"/>
<text transform="translate(655.3 101) rotate(0.2)" font-size="15" font-family='"Liberation Sans","Noto Sans CJK SC",sans-serif' font-weight="bold" text-anchor="middle" fill="#000" >**</text>
<rect x="634.2" y="45.3" width="49.4" height="21.1" fill="#fff" stroke="#e4e4e4" stroke-width="0.6"/>
<line x1="634.5" y1="51.4" x2="652" y2="51.4" stroke="#4fc0ff" stroke-width="1.1" />
<line x1="634.5" y1="60.2" x2="652" y2="60.2" stroke="#e8a064" stroke-width="1.1" stroke-opacity="0.6"/>
<text transform="translate(656.1 54.1) rotate(0.2) scale(0.95 1)" font-size="7.9" font-family='"Liberation Sans","Noto Sans CJK SC",sans-serif' font-weight="bold" text-anchor="start" fill="#000" >Control</text>
<text transform="translate(656.1 63.4) rotate(0.2) scale(0.95 1)" font-size="7.9" font-family='"Liberation Sans","Noto Sans CJK SC",sans-serif' font-weight="bold" text-anchor="start" fill="#000" >SCH</text>
<rect x="100.3" y="262.38" width="20.40" height="95.42" fill="#b9dcee" stroke="#4456b0" stroke-width="1.0"/>
<rect x="140.2" y="289.64" width="20.10" height="68.16" fill="#f4d4d8" stroke="#c8505c" stroke-width="1.0"/>
<line x1="110.8" y1="252.365" x2="110.8" y2="271.748" stroke="#4456b0" stroke-width="0.7" />
<line x1="108.5" y1="252.365" x2="113.1" y2="252.365" stroke="#4456b0" stroke-width="0.7" />
<line x1="108.5" y1="271.748" x2="113.1" y2="271.748" stroke="#4456b0" stroke-width="0.7" />
<line x1="150.5" y1="278.99" x2="150.5" y2="300.929" stroke="#c8505c" stroke-width="0.7" />
<line x1="148.2" y1="278.99" x2="152.8" y2="278.99" stroke="#c8505c" stroke-width="0.7" />
<line x1="148.2" y1="300.929" x2="152.8" y2="300.929" stroke="#c8505c" stroke-width="0.7" />
<line x1="90.5" y1="229.5" x2="90.5" y2="358.3" stroke="#000" stroke-width="1.0" />
<line x1="87.5" y1="357.8" x2="179.5" y2="357.8" stroke="#a8a8a8" stroke-width="1.2" />
<text transform="translate(84.5 360.3) rotate(0.2)" font-size="7.0" font-family='"Liberation Sans","Noto Sans CJK SC",sans-serif' font-weight="bold" text-anchor="end" fill="#000" stroke="#000" stroke-width="0.12">0</text>
<line x1="86.9" y1="336.5" x2="90.5" y2="336.5" stroke="#000" stroke-width="0.9" />
<text transform="translate(84.5 339.0) rotate(0.2)" font-size="7.0" font-family='"Liberation Sans","Noto Sans CJK SC",sans-serif' font-weight="bold" text-anchor="end" fill="#000" stroke="#000" stroke-width="0.12">10</text>
<line x1="86.9" y1="315.2" x2="90.5" y2="315.2" stroke="#000" stroke-width="0.9" />
<text transform="translate(84.5 317.7) rotate(0.2)" font-size="7.0" font-family='"Liberation Sans","Noto Sans CJK SC",sans-serif' font-weight="bold" text-anchor="end" fill="#000" stroke="#000" stroke-width="0.12">20</text>
<line x1="86.9" y1="293.9" x2="90.5" y2="293.9" stroke="#000" stroke-width="0.9" />
<text transform="translate(84.5 296.4) rotate(0.2)" font-size="7.0" font-family='"Liberation Sans","Noto Sans CJK SC",sans-serif' font-weight="bold" text-anchor="end" fill="#000" stroke="#000" stroke-width="0.12">30</text>
<line x1="86.9" y1="272.6" x2="90.5" y2="272.6" stroke="#000" stroke-width="0.9" />
<text transform="translate(84.5 275.1) rotate(0.2)" font-size="7.0" font-family='"Liberation Sans","Noto Sans CJK SC",sans-serif' font-weight="bold" text-anchor="end" fill="#000" stroke="#000" stroke-width="0.12">40</text>
<line x1="86.9" y1="251.3" x2="90.5" y2="251.3" stroke="#000" stroke-width="0.9" />
<text transform="translate(84.5 253.8) rotate(0.2)" font-size="7.0" font-family='"Liberation Sans","Noto Sans CJK SC",sans-serif' font-weight="bold" text-anchor="end" fill="#000" stroke="#000" stroke-width="0.12">50</text>
<line x1="86.9" y1="230.0" x2="90.5" y2="230.0" stroke="#000" stroke-width="0.9" />
<text transform="translate(84.5 232.5) rotate(0.2)" font-size="7.0" font-family='"Liberation Sans","Noto Sans CJK SC",sans-serif' font-weight="bold" text-anchor="end" fill="#000" stroke="#000" stroke-width="0.12">60</text>
<g transform="translate(98,231.2) rotate(0.2)" font-family='"Liberation Serif","Noto Serif CJK SC",serif' font-weight="bold" font-size="7.8" fill="#000" stroke="#000" stroke-width="0.1">
<text x="0" y="0" textLength="24.3" lengthAdjust="spacingAndGlyphs">MWM</text>
<text x="23.800000000000004" y="0">（</text>
<text x="32.599999999999994" y="0" textLength="49" lengthAdjust="spacingAndGlyphs">memory phas</text>
</g>
<g transform="translate(68.30000000000001,346.1) rotate(-90)" font-family='"Liberation Serif","Noto Serif CJK SC",serif' font-weight="bold" font-size="6.2" fill="#000" stroke="#000" stroke-width="0.25">
<text x="0" y="0" textLength="84.9" lengthAdjust="spacingAndGlyphs">Times in target quadrant</text>
<text x="85.65" y="0" font-size="7.0">（</text>
<text x="94.1" y="0" font-size="7.4">s</text>
<text x="98.55" y="0" font-size="7.0">）</text>
</g>
<line x1="114" y1="241.2" x2="149.2" y2="241.2" stroke="#111" stroke-width="1.1" />
<text transform="translate(97 369.9) rotate(0.2)" font-size="8.8" font-family='"Liberation Serif","Noto Serif CJK SC",serif' font-weight="bold" text-anchor="start" fill="#000" textLength="27.9" lengthAdjust="spacingAndGlyphs" stroke="#000" stroke-width="0.15">Control</text>
<text transform="translate(142 369.9) rotate(0.2)" font-size="8.8" font-family='"Liberation Serif","Noto Serif CJK SC",serif' font-weight="bold" text-anchor="start" fill="#000" textLength="17" lengthAdjust="spacingAndGlyphs" stroke="#000" stroke-width="0.15">SCH</text>
<text transform="translate(130.6 243.7) rotate(0.2)" font-size="11" font-family='"Liberation Sans","Noto Sans CJK SC",sans-serif' font-weight="bold" text-anchor="middle" fill="#000" textLength="11.2" lengthAdjust="spacingAndGlyphs" >**</text>
<rect x="327.1" y="259.18" width="19.40" height="98.42" fill="#b9dcee" stroke="#4456b0" stroke-width="1.0"/>
<rect x="365.3" y="296.24" width="20.30" height="61.36" fill="#f4d4d8" stroke="#c8505c" stroke-width="1.0"/>
<line x1="337.0" y1="247.399" x2="337.0" y2="271.2865" stroke="#4456b0" stroke-width="1.0" />
<line x1="335.1" y1="247.399" x2="338.9" y2="247.399" stroke="#4456b0" stroke-width="1.0" />
<line x1="335.1" y1="271.2865" x2="338.9" y2="271.2865" stroke="#4456b0" stroke-width="1.0" />
<line x1="376.1" y1="279.77983333333333" x2="376.1" y2="312.26683333333335" stroke="#c8505c" stroke-width="0.75" />
<line x1="374.20000000000005" y1="279.77983333333333" x2="378.0" y2="279.77983333333333" stroke="#c8505c" stroke-width="0.75" />
<line x1="374.20000000000005" y1="312.26683333333335" x2="378.0" y2="312.26683333333335" stroke="#c8505c" stroke-width="0.75" />
<line x1="317.2" y1="229.7" x2="317.2" y2="358.1" stroke="#000" stroke-width="1.0" />
<line x1="314.4" y1="357.6" x2="403.6" y2="357.6" stroke="#000" stroke-width="1.0" />
<line x1="313.59999999999997" y1="357.6" x2="317.2" y2="357.6" stroke="#000" stroke-width="0.9" />
<text transform="translate(311.8 360.1) rotate(0.2)" font-size="7.0" font-family='"Liberation Sans","Noto Sans CJK SC",sans-serif' font-weight="bold" text-anchor="end" fill="#000" stroke="#000" stroke-width="0.12">0</text>
<line x1="313.59999999999997" y1="336.3666666666667" x2="317.2" y2="336.3666666666667" stroke="#000" stroke-width="0.9" />
<text transform="translate(311.8 338.8666666666667) rotate(0.2)" font-size="7.0" font-family='"Liberation Sans","Noto Sans CJK SC",sans-serif' font-weight="bold" text-anchor="end" fill="#000" stroke="#000" stroke-width="0.12">2</text>
<line x1="313.59999999999997" y1="315.1333333333333" x2="317.2" y2="315.1333333333333" stroke="#000" stroke-width="0.9" />
<text transform="translate(311.8 317.6333333333333) rotate(0.2)" font-size="7.0" font-family='"Liberation Sans","Noto Sans CJK SC",sans-serif' font-weight="bold" text-anchor="end" fill="#000" stroke="#000" stroke-width="0.12">4</text>
<line x1="313.59999999999997" y1="293.9" x2="317.2" y2="293.9" stroke="#000" stroke-width="0.9" />
<text transform="translate(311.8 296.4) rotate(0.2)" font-size="7.0" font-family='"Liberation Sans","Noto Sans CJK SC",sans-serif' font-weight="bold" text-anchor="end" fill="#000" stroke="#000" stroke-width="0.12">6</text>
<line x1="313.59999999999997" y1="272.6666666666667" x2="317.2" y2="272.6666666666667" stroke="#000" stroke-width="0.9" />
<text transform="translate(311.8 275.1666666666667) rotate(0.2)" font-size="7.0" font-family='"Liberation Sans","Noto Sans CJK SC",sans-serif' font-weight="bold" text-anchor="end" fill="#000" stroke="#000" stroke-width="0.12">8</text>
<line x1="313.59999999999997" y1="251.43333333333334" x2="317.2" y2="251.43333333333334" stroke="#000" stroke-width="0.9" />
<text transform="translate(311.8 253.93333333333334) rotate(0.2)" font-size="7.0" font-family='"Liberation Sans","Noto Sans CJK SC",sans-serif' font-weight="bold" text-anchor="end" fill="#000" stroke="#000" stroke-width="0.12">10</text>
<line x1="313.59999999999997" y1="230.2" x2="317.2" y2="230.2" stroke="#000" stroke-width="0.9" />
<text transform="translate(311.8 232.7) rotate(0.2)" font-size="7.0" font-family='"Liberation Sans","Noto Sans CJK SC",sans-serif' font-weight="bold" text-anchor="end" fill="#000" stroke="#000" stroke-width="0.12">12</text>
<g transform="translate(326.6,231.3) rotate(0.2)" font-family='"Liberation Serif","Noto Serif CJK SC",serif' font-weight="bold" font-size="7.7" fill="#000" stroke="#000" stroke-width="0.1">
<text x="0" y="0" textLength="77.6" lengthAdjust="spacingAndGlyphs">Target annulus crosso</text>
</g>
<g transform="translate(298.9,351.8) rotate(-90)" font-family='"Liberation Serif","Noto Serif CJK SC",serif' font-weight="bold" font-size="7.3" fill="#000" stroke="#000" stroke-width="0.1">
<text x="0" y="0" textLength="93.8" lengthAdjust="spacingAndGlyphs">Target annulus crossovers</text>
<text x="94.65" y="0" font-size="7.0">（</text>
<text x="102.8" y="0" font-size="7.2">n</text>
<text x="108.15" y="0" font-size="7.0">）</text>
</g>
<line x1="339.1" y1="241.9" x2="378" y2="241.9" stroke="#111" stroke-width="1.1" />
<text transform="translate(324.1 368.8) rotate(0.2)" font-size="8.8" font-family='"Liberation Serif","Noto Serif CJK SC",serif' font-weight="bold" text-anchor="start" fill="#000" textLength="27.1" lengthAdjust="spacingAndGlyphs" stroke="#000" stroke-width="0.15">Control</text>
<text transform="translate(367.8 368.8) rotate(0.2)" font-size="8.8" font-family='"Liberation Serif","Noto Serif CJK SC",serif' font-weight="bold" text-anchor="start" fill="#000" textLength="17.6" lengthAdjust="spacingAndGlyphs" stroke="#000" stroke-width="0.15">SCH</text>
<text transform="translate(358.4 244.2) rotate(0.2)" font-size="13" font-family='"Liberation Sans","Noto Sans CJK SC",sans-serif' font-weight="bold" text-anchor="middle" fill="#000" >*</text>
<rect x="564.7" y="268.39" width="20.00" height="89.11" fill="#b9dcee" stroke="#4456b0" stroke-width="1.25"/>
<rect x="603.5" y="272.21" width="20.20" height="85.29" fill="#f4d4d8" stroke="#c8505c" stroke-width="1.25"/>
<line x1="574.2" y1="255.66" x2="574.2" y2="281.43825" stroke="#4456b0" stroke-width="0.75" />
<line x1="572.2" y1="255.66" x2="576.2" y2="255.66" stroke="#4456b0" stroke-width="0.75" />
<line x1="572.2" y1="281.43825" x2="576.2" y2="281.43825" stroke="#4456b0" stroke-width="0.75" />
<line x1="613.8" y1="262.47055" x2="613.8" y2="281.7565" stroke="#c8505c" stroke-width="1.1" />
<line x1="611.8" y1="262.47055" x2="615.8" y2="262.47055" stroke="#c8505c" stroke-width="1.1" />
<line x1="611.8" y1="281.7565" x2="615.8" y2="281.7565" stroke="#c8505c" stroke-width="1.1" />
<line x1="555.1" y1="229.7" x2="555.1" y2="358.0" stroke="#000" stroke-width="1.0" />
<line x1="552" y1="357.5" x2="641.9" y2="357.5" stroke="#000" stroke-width="1.0" />
<line x1="551.5" y1="357.5" x2="555.1" y2="357.5" stroke="#000" stroke-width="0.9" />
<text transform="translate(549.1 360.0) rotate(0.2)" font-size="7.0" font-family='"Liberation Sans","Noto Sans CJK SC",sans-serif' font-weight="bold" text-anchor="end" fill="#000" stroke="#000" stroke-width="0.12">0.0</text>
<line x1="551.5" y1="325.675" x2="555.1" y2="325.675" stroke="#000" stroke-width="0.9" />
<text transform="translate(549.1 328.175) rotate(0.2)" font-size="7.0" font-family='"Liberation Sans","Noto Sans CJK SC",sans-serif' font-weight="bold" text-anchor="end" fill="#000" stroke="#000" stroke-width="0.12">0.1</text>
<line x1="551.5" y1="293.85" x2="555.1" y2="293.85" stroke="#000" stroke-width="0.9" />
<text transform="translate(549.1 296.35) rotate(0.2)" font-size="7.0" font-family='"Liberation Sans","Noto Sans CJK SC",sans-serif' font-weight="bold" text-anchor="end" fill="#000" stroke="#000" stroke-width="0.12">0.2</text>
<line x1="551.5" y1="262.025" x2="555.1" y2="262.025" stroke="#000" stroke-width="0.9" />
<text transform="translate(549.1 264.525) rotate(0.2)" font-size="7.0" font-family='"Liberation Sans","Noto Sans CJK SC",sans-serif' font-weight="bold" text-anchor="end" fill="#000" stroke="#000" stroke-width="0.12">0.3</text>
<line x1="551.5" y1="230.2" x2="555.1" y2="230.2" stroke="#000" stroke-width="0.9" />
<text transform="translate(549.1 232.7) rotate(0.2)" font-size="7.0" font-family='"Liberation Sans","Noto Sans CJK SC",sans-serif' font-weight="bold" text-anchor="end" fill="#000" stroke="#000" stroke-width="0.12">0.4</text>
<g transform="translate(568.2,227.8) rotate(0.2)" font-family='"Liberation Serif","Noto Serif CJK SC",serif' font-weight="bold" font-size="7.8" fill="#000" stroke="#000" stroke-width="0.1">
<text x="0" y="0" textLength="59.2" lengthAdjust="spacingAndGlyphs">Average velocity</text>
</g>
<g transform="translate(532.5,340.5) rotate(-90)" font-family='"Liberation Serif","Noto Serif CJK SC",serif' font-weight="bold" font-size="7.2" fill="#000" stroke="#000" stroke-width="0.1">
<text x="0" y="0" textLength="59.0" lengthAdjust="spacingAndGlyphs">Average velocity</text>
<text x="59.2" y="0" font-size="7.6">（</text>
<text x="67.9" y="0" textLength="16.1" lengthAdjust="spacingAndGlyphs">cm/s</text>
<text x="84.8" y="0" font-size="7.6">）</text>
</g>
<line x1="575.3" y1="241.9" x2="610" y2="241.9" stroke="#111" stroke-width="1.1" />
<text transform="translate(560.8 368.8) rotate(0.2)" font-size="8.8" font-family='"Liberation Serif","Noto Serif CJK SC",serif' font-weight="bold" text-anchor="start" fill="#000" textLength="27.5" lengthAdjust="spacingAndGlyphs" stroke="#000" stroke-width="0.15">Control</text>
<text transform="translate(605.7 368.8) rotate(0.2)" font-size="8.8" font-family='"Liberation Serif","Noto Serif CJK SC",serif' font-weight="bold" text-anchor="start" fill="#000" textLength="16.9" lengthAdjust="spacingAndGlyphs" stroke="#000" stroke-width="0.15">SCH</text>
<text transform="translate(592.5 239.6) rotate(0.2)" font-size="7.2" font-family='"Liberation Sans","Noto Sans CJK SC",sans-serif' font-weight="bold" text-anchor="middle" fill="#000" stroke="#000" stroke-width="0.15">NS</text>
</svg>
</body></html>
